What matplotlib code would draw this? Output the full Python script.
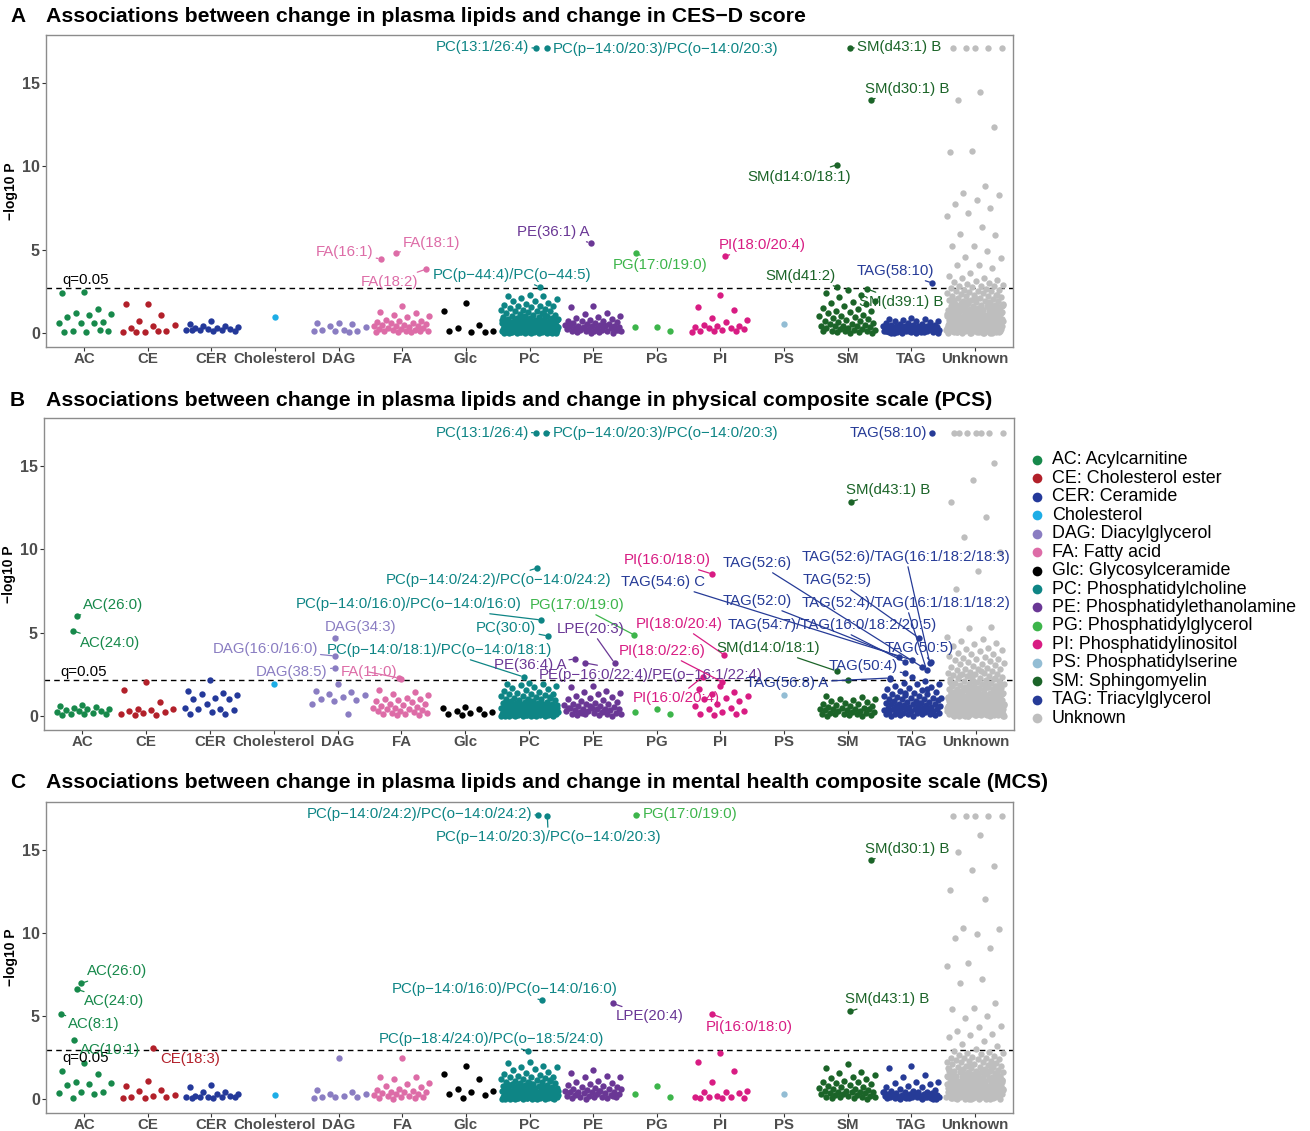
import matplotlib.pyplot as plt
from matplotlib.lines import Line2D

plt.rcParams['font.family'] = ['Liberation Sans', 'DejaVu Sans']

categories = ["AC", "CE", "CER", "Cholesterol", "DAG", "FA", "Glc", "PC", "PE",
              "PG", "PI", "PS", "SM", "TAG", "Unknown"]
legend_names = ["AC: Acylcarnitine", "CE: Cholesterol ester", "CER: Ceramide", "Cholesterol",
                "DAG: Diacylglycerol", "FA: Fatty acid", "Glc: Glycosylceramide",
                "PC: Phosphatidylcholine", "PE: Phosphatidylethanolamine",
                "PG: Phosphatidylglycerol", "PI: Phosphatidylinositol", "PS: Phosphatidylserine",
                "SM: Sphingomyelin", "TAG: Triacylglycerol", "Unknown"]
colors = ["#17894B", "#B2202A", "#24399A", "#1DADE6", "#8A7DC2", "#DD6CA7", "#000000",
          "#0E8585", "#6A3795", "#3DB54B", "#D81C83", "#93BDD4", "#1B6428", "#263B97",
          "#BEBEBE"]

titles = ["Associations between change in plasma lipids and change in CES\u2212D score",
          "Associations between change in plasma lipids and change in physical composite scale (PCS)",
          "Associations between change in plasma lipids and change in mental health composite scale (MCS)"]
panel_tags = ["A", "B", "C"]
# -log10 P at q = 0.05
thresholds = [2.7, 2.15, 2.95]

# ---------------- panel A: CES-D ----------------
a_ac = [2.45, 2.4, 1.45, 1.2, 1.15, 1.1, 0.95, 0.65, 0.6, 0.6, 0.6, 0.15, 0.1, 0.05, 0.05, 0.2]
a_ce = [1.75, 1.75, 1.1, 0.7, 0.5, 0.45, 0.3, 0.15, 0.05, 0.05, 0.1, 0.05]
a_cer = [0.75, 0.55, 0.45, 0.4, 0.35, 0.3, 0.3, 0.25, 0.25, 0.2, 0.2, 0.2, 0.15, 0.15, 0.2]
a_chol = [0.95]
a_dag = [0.6, 0.6, 0.55, 0.45, 0.35, 0.2, 0.2, 0.15, 0.1, 0.1, 0.05]
a_fa = [1.6, 1.25, 1.2, 1.1, 1.0, 0.95, 0.8, 0.7, 0.7, 0.65, 0.6, 0.6, 0.55, 0.5, 0.5, 0.45,
        0.45, 0.4, 0.35, 0.3, 0.3, 0.25, 0.25, 0.2, 0.2, 0.15, 0.15, 0.1, 0.1, 0.05, 0.05, 0.05]
a_glc = [1.8, 1.35, 0.5, 0.3, 0.15, 0.05, 0.1, 0.05]
a_pc = [2.3, 2.25, 2.2, 2.1, 2.05, 1.95, 1.9, 1.8, 1.75, 1.7, 1.65, 1.6, 1.6, 1.55, 1.5, 1.45,
        1.4, 1.4, 1.35, 1.3, 1.3, 1.25, 1.2, 1.2, 1.15, 1.1, 1.1, 1.05, 1.0, 1.0, 0.95, 0.95,
        0.9, 0.9, 0.9, 0.85, 0.85, 0.8, 0.8, 0.8, 0.75, 0.75, 0.75, 0.7, 0.7, 0.7, 0.65, 0.65,
        0.65, 0.6, 0.6, 0.6, 0.6, 0.55, 0.55, 0.55, 0.55, 0.5, 0.5, 0.5, 0.5, 0.45, 0.45, 0.45,
        0.45, 0.4, 0.4, 0.4, 0.4, 0.4, 0.35, 0.35, 0.35, 0.35, 0.35, 0.3, 0.3, 0.3, 0.3, 0.3,
        0.3, 0.25, 0.25, 0.25, 0.25, 0.25, 0.25, 0.2, 0.2, 0.2, 0.2, 0.2, 0.2, 0.2, 0.15, 0.15,
        0.15, 0.15, 0.15, 0.15, 0.15, 0.1, 0.1, 0.1, 0.1, 0.1, 0.1, 0.1, 0.1, 0.05, 0.05, 0.05,
        0.05, 0.05, 0.05, 0.05, 0.05, 0.02, 0.02, 0.02, 0.02, 0.02, 0.02, 0.02, 0.02,
        1.15, 0.95, 0.85, 0.7, 0.6, 0.5, 0.42, 0.37, 0.28, 0.22, 0.18, 0.12, 0.08, 0.04, 0.9,
        0.78, 0.68, 0.58, 0.48, 0.33, 0.27, 0.17, 0.07, 0.03]
a_pe = [1.65, 1.55, 1.2, 1.15, 1.0, 0.95, 0.9, 0.85, 0.8, 0.75, 0.7, 0.7, 0.65, 0.6, 0.6, 0.55,
        0.55, 0.5, 0.5, 0.45, 0.45, 0.4, 0.4, 0.4, 0.35, 0.35, 0.3, 0.3, 0.3, 0.25, 0.25, 0.2,
        0.2, 0.2, 0.15, 0.15, 0.1, 0.1, 0.1, 0.05, 0.05, 0.02, 0.02, 0.62, 0.48, 0.33, 0.18]
a_pg = [0.35, 0.35, 0.15]
a_pi = [2.3, 1.55, 1.4, 0.9, 0.8, 0.65, 0.5, 0.4, 0.4, 0.35, 0.3, 0.3, 0.25, 0.2, 0.15, 0.1,
        0.1, 0.05]
a_ps = [0.55]
a_sm = [2.6, 2.4, 2.3, 2.15, 1.95, 1.85, 1.8, 1.75, 1.65, 1.5, 1.45, 1.35, 1.3, 1.25, 1.2, 1.1,
        1.05, 1.0, 0.95, 0.9, 0.85, 0.8, 0.75, 0.7, 0.65, 0.6, 0.55, 0.55, 0.5, 0.45, 0.45,
        0.4, 0.4, 0.35, 0.3, 0.3, 0.25, 0.25, 0.2, 0.2, 0.15, 0.15, 0.1, 0.1, 0.05, 0.05, 0.02,
        0.02]
a_tag = [0.9, 0.85, 0.85, 0.8, 0.75, 0.7, 0.7, 0.65, 0.6, 0.6, 0.55, 0.55, 0.5, 0.5, 0.5, 0.45,
         0.45, 0.45, 0.4, 0.4, 0.4, 0.4, 0.35, 0.35, 0.35, 0.35, 0.3, 0.3, 0.3, 0.3, 0.3, 0.25,
         0.25, 0.25, 0.25, 0.25, 0.2, 0.2, 0.2, 0.2, 0.2, 0.2, 0.15, 0.15, 0.15, 0.15, 0.15,
         0.1, 0.1, 0.1, 0.1, 0.1, 0.1, 0.05, 0.05, 0.05, 0.05, 0.05, 0.02, 0.02, 0.02, 0.02,
         0.32, 0.22, 0.12, 0.07, 0.42, 0.27, 0.17, 0.03]
a_unk = [17.1, 17.1, 17.1, 17.1, 17.1, 14.45, 14.0, 12.35, 10.9, 10.85, 8.8, 8.4, 8.3, 8.0,
         7.75, 7.5, 7.2, 7.0, 6.35, 5.95, 5.9, 5.25, 5.2, 4.95, 4.55, 4.5, 4.1, 4.1, 3.9, 3.6,
         3.4, 3.3, 3.3, 3.2, 3.1, 3.05, 3.0, 2.95, 2.9, 2.85, 2.8, 2.8, 2.75, 2.7, 2.65, 2.6,
         2.6, 2.55, 2.5, 2.5, 2.45, 2.4, 2.4, 2.35, 2.3, 2.3, 2.25, 2.2, 2.2, 2.15, 2.1, 2.1,
         2.05, 2.0, 2.0, 1.95, 1.9, 1.9, 1.85, 1.8, 1.8, 1.8, 1.75, 1.7, 1.7, 1.7, 1.65, 1.6,
         1.6, 1.6, 1.55, 1.5, 1.5, 1.5, 1.45, 1.4, 1.4, 1.4, 1.35, 1.3, 1.3, 1.3, 1.3, 1.25,
         1.2, 1.2, 1.2, 1.2, 1.15, 1.1, 1.1, 1.1, 1.1, 1.05, 1.0, 1.0, 1.0, 1.0, 0.95, 0.95,
         0.9, 0.9, 0.9, 0.9, 0.85, 0.85, 0.85, 0.8, 0.8, 0.8, 0.8, 0.75, 0.75, 0.75, 0.7, 0.7,
         0.7, 0.7, 0.65, 0.65, 0.65, 0.6, 0.6, 0.6, 0.6, 0.55, 0.55, 0.55, 0.5, 0.5, 0.5, 0.5,
         0.45, 0.45, 0.45, 0.4, 0.4, 0.4, 0.4, 0.35, 0.35, 0.35, 0.3, 0.3, 0.3, 0.3, 0.25, 0.25,
         0.25, 0.2, 0.2, 0.2, 0.2, 0.15, 0.15, 0.15, 0.1, 0.1, 0.1, 0.1, 0.05, 0.05, 0.05, 0.02,
         0.02, 0.02, 0.02,
         2.28, 2.12, 1.98, 1.88, 1.72, 1.62, 1.52, 1.42, 1.32, 1.22, 1.12, 1.02, 0.92, 0.82,
         0.72, 0.62, 0.52, 0.42, 0.32, 0.22, 0.12, 0.04, 2.02, 1.78, 1.58, 1.38, 1.18, 0.98,
         0.88, 0.78, 0.68, 0.58, 0.48, 0.38, 0.28, 0.18, 0.08, 0.03, 1.92, 1.68, 1.48, 1.28,
         1.08, 0.93, 0.83, 0.73, 0.63, 0.53, 0.43, 0.33, 0.23, 0.13, 0.06, 0.01, 1.83, 1.63,
         1.44, 1.26, 1.06, 0.96, 0.86, 0.76, 0.66, 0.56, 0.46, 0.36, 0.26, 0.16, 0.09, 0.04,
         1.74, 1.54, 1.34, 1.16, 0.97, 0.87, 0.77, 0.67, 0.57, 0.47, 0.37, 0.27, 0.17, 0.07,
         0.03, 0.01]

a_lab_names = ["PC(13:1/26:4)", "PC(p\u221214:0/20:3)/PC(o\u221214:0/20:3)", "SM(d43:1) B",
               "SM(d30:1) B", "SM(d14:0/18:1)", "TAG(58:10)", "SM(d41:2)", "SM(d39:1) B",
               "PI(18:0/20:4)", "PG(17:0/19:0)", "PE(36:1) A", "FA(16:1)", "FA(18:1)",
               "FA(18:2)", "PC(p\u221244:4)/PC(o\u221244:5)"]
a_lab_cats = ["PC", "PC", "SM", "SM", "SM", "TAG", "SM", "SM", "PI", "PG", "PE", "FA", "FA",
              "FA", "PC"]
a_lab_vals = [17.1, 17.1, 17.1, 14.0, 10.1, 3.0, 2.76, 2.64, 4.62, 4.8, 5.4, 4.44, 4.8, 3.84,
              2.76]

# ---------------- panel B: PCS ----------------
b_ac = [0.65, 0.6, 0.55, 0.5, 0.45, 0.4, 0.35, 0.3, 0.3, 0.25, 0.2, 0.15, 0.1, 0.1, 0.05]
b_ce = [2.05, 1.55, 0.85, 0.45, 0.4, 0.35, 0.3, 0.25, 0.2, 0.1, 0.05, 0.05]
b_cer = [2.15, 1.5, 1.4, 1.35, 1.25, 1.1, 1.05, 1.0, 0.7, 0.5, 0.45, 0.4, 0.35, 0.25, 0.15, 0.1]
b_chol = [1.9]
b_dag = [1.95, 1.5, 1.45, 1.35, 1.25, 1.15, 1.0, 0.95, 0.9, 0.75, 0.15]
b_fa = [2.25, 1.55, 1.45, 1.35, 1.25, 1.1, 1.05, 1.0, 0.95, 0.9, 0.85, 0.75, 0.7, 0.65, 0.6,
        0.55, 0.5, 0.5, 0.45, 0.4, 0.35, 0.3, 0.3, 0.25, 0.2, 0.2, 0.15, 0.1, 0.05, 0.05]
b_glc = [0.55, 0.5, 0.45, 0.3, 0.25, 0.2, 0.15, 0.1, 0.05]
b_pc = [2.0, 1.95, 1.9, 1.85, 1.8, 1.75, 1.7, 1.6, 1.55, 1.5, 1.45, 1.4, 1.35, 1.3, 1.3, 1.25,
        1.2, 1.2, 1.15, 1.1, 1.1, 1.05, 1.0, 1.0, 0.95, 0.95, 0.9, 0.9, 0.85, 0.85, 0.8, 0.8,
        0.8, 0.75, 0.75, 0.7, 0.7, 0.7, 0.65, 0.65, 0.65, 0.6, 0.6, 0.6, 0.6, 0.55, 0.55, 0.55,
        0.5, 0.5, 0.5, 0.5, 0.45, 0.45, 0.45, 0.45, 0.4, 0.4, 0.4, 0.4, 0.4, 0.35, 0.35, 0.35,
        0.35, 0.3, 0.3, 0.3, 0.3, 0.3, 0.25, 0.25, 0.25, 0.25, 0.25, 0.2, 0.2, 0.2, 0.2, 0.2,
        0.2, 0.15, 0.15, 0.15, 0.15, 0.15, 0.15, 0.1, 0.1, 0.1, 0.1, 0.1, 0.1, 0.1, 0.05, 0.05,
        0.05, 0.05, 0.05, 0.05, 0.05, 0.02, 0.02, 0.02, 0.02, 0.02, 0.02, 0.02, 0.02,
        1.12, 0.98, 0.88, 0.72, 0.62, 0.52, 0.42, 0.37, 0.28, 0.22, 0.18, 0.12, 0.08, 0.04,
        0.92, 0.78, 0.68, 0.58, 0.48, 0.33, 0.27, 0.17, 0.07, 0.03]
b_pe = [1.8, 1.75, 1.5, 1.45, 1.4, 1.3, 1.2, 1.15, 1.1, 1.0, 0.95, 0.9, 0.85, 0.8, 0.75, 0.7,
        0.7, 0.65, 0.6, 0.6, 0.55, 0.5, 0.5, 0.45, 0.45, 0.4, 0.4, 0.35, 0.35, 0.3, 0.3, 0.25,
        0.25, 0.2, 0.2, 0.15, 0.15, 0.1, 0.1, 0.05, 0.05, 0.02, 0.62, 0.48, 0.33, 0.18]
b_pg = [0.42, 0.27, 0.12]
b_pi = [1.8, 1.6, 1.45, 1.3, 1.2, 1.1, 1.0, 0.9, 0.75, 0.6, 0.5, 0.4, 0.3, 0.25, 0.15, 0.1, 0.05]
b_ps = [1.26]
b_sm = [2.15, 1.2, 1.15, 1.05, 1.0, 0.95, 0.9, 0.85, 0.8, 0.75, 0.7, 0.65, 0.6, 0.6, 0.55, 0.5,
        0.5, 0.45, 0.45, 0.4, 0.4, 0.35, 0.35, 0.3, 0.3, 0.25, 0.25, 0.2, 0.2, 0.15, 0.15, 0.1,
        0.1, 0.05, 0.05, 0.02, 0.02]
b_tag = [2.35, 2.2, 2.1, 2.0, 1.95, 1.9, 1.8, 1.75, 1.7, 1.6, 1.55, 1.5, 1.45, 1.4, 1.35, 1.3,
         1.25, 1.2, 1.2, 1.15, 1.1, 1.1, 1.05, 1.0, 1.0, 0.95, 0.9, 0.9, 0.85, 0.85, 0.8, 0.8,
         0.75, 0.75, 0.7, 0.7, 0.65, 0.65, 0.6, 0.6, 0.6, 0.55, 0.55, 0.5, 0.5, 0.5, 0.45, 0.45,
         0.4, 0.4, 0.4, 0.35, 0.35, 0.3, 0.3, 0.3, 0.25, 0.25, 0.2, 0.2, 0.2, 0.15, 0.15, 0.1,
         0.1, 0.1, 0.05, 0.05, 0.02, 0.02, 1.65, 1.38, 1.08, 0.78, 0.48, 0.18]
b_unk = [17.0, 17.0, 17.0, 17.0, 17.0, 17.0, 17.0, 15.2, 14.15, 12.85, 11.95, 10.75, 9.85, 8.7,
         7.6, 5.35, 5.3, 4.75, 4.6, 4.5, 4.4, 4.3, 4.2, 4.1, 4.0, 3.95, 3.9, 3.8, 3.75, 3.7, 3.6,
         3.55, 3.5, 3.45, 3.4, 3.35, 3.3, 3.25, 3.2, 3.15, 3.1, 3.05, 3.0, 2.95, 2.9, 2.85, 2.8,
         2.8, 2.75, 2.7, 2.65, 2.6, 2.6, 2.55, 2.5, 2.5, 2.45, 2.4, 2.4, 2.35, 2.3, 2.3, 2.25,
         2.2, 2.2, 2.15, 2.1, 2.1, 2.05, 2.0, 2.0, 1.95, 1.9, 1.9, 1.85, 1.8, 1.8, 1.8, 1.75,
         1.7, 1.7, 1.7, 1.65, 1.6, 1.6, 1.6, 1.55, 1.5, 1.5, 1.5, 1.45, 1.4, 1.4, 1.4, 1.35,
         1.3, 1.3, 1.3, 1.3, 1.25, 1.2, 1.2, 1.2, 1.2, 1.15, 1.1, 1.1, 1.1, 1.1, 1.05, 1.0, 1.0,
         1.0, 1.0, 0.95, 0.95, 0.9, 0.9, 0.9, 0.9, 0.85, 0.85, 0.85, 0.8, 0.8, 0.8, 0.8, 0.75,
         0.75, 0.75, 0.7, 0.7, 0.7, 0.7, 0.65, 0.65, 0.65, 0.6, 0.6, 0.6, 0.6, 0.55, 0.55, 0.55,
         0.5, 0.5, 0.5, 0.5, 0.45, 0.45, 0.45, 0.4, 0.4, 0.4, 0.4, 0.35, 0.35, 0.35, 0.3, 0.3,
         0.3, 0.3, 0.25, 0.25, 0.25, 0.2, 0.2, 0.2, 0.2, 0.15, 0.15, 0.15, 0.1, 0.1, 0.1, 0.1,
         0.05, 0.05, 0.05, 0.02, 0.02, 0.02, 0.02,
         2.68, 2.48, 2.28, 2.12, 1.98, 1.88, 1.72, 1.62, 1.52, 1.42, 1.32, 1.22, 1.12, 1.02,
         0.92, 0.82, 0.72, 0.62, 0.52, 0.42, 0.32, 0.22, 0.12, 0.04, 2.38, 2.02, 1.78, 1.58,
         1.38, 1.18, 0.98, 0.88, 0.78, 0.68, 0.58, 0.48, 0.38, 0.28, 0.18, 0.08, 0.03, 1.92,
         1.68, 1.48, 1.28, 1.08, 0.93, 0.83, 0.73, 0.63, 0.53, 0.43, 0.33, 0.23, 0.13, 0.06,
         0.01, 1.83, 1.63, 1.44, 1.26, 1.06, 0.96, 0.86, 0.76, 0.66, 0.56, 0.46, 0.36, 0.26,
         0.16, 0.09, 0.04, 1.74, 1.54, 1.34, 1.16, 0.97, 0.87, 0.77, 0.67, 0.57, 0.47, 0.37,
         0.27, 0.17, 0.07, 0.03, 0.01]

b_lab_names = ["PC(13:1/26:4)", "PC(p\u221214:0/20:3)/PC(o\u221214:0/20:3)", "TAG(58:10)",
               "SM(d43:1) B", "AC(26:0)", "AC(24:0)", "DAG(34:3)", "DAG(16:0/16:0)",
               "DAG(38:5)", "FA(11:0)", "PC(p\u221214:0/24:2)/PC(o\u221214:0/24:2)",
               "PC(p\u221214:0/16:0)/PC(o\u221214:0/16:0)", "PC(30:0)",
               "PC(p\u221214:0/18:1)/PC(o\u221214:0/18:1)", "PG(17:0/19:0)", "LPE(20:3)",
               "PE(36:4) A", "PE(p\u221216:0/22:4)/PE(o\u221216:1/22:4)", "PI(16:0/18:0)",
               "PI(18:0/20:4)", "PI(18:0/22:6)", "PI(16:0/20:4)", "SM(d14:0/18:1)",
               "TAG(52:6)/TAG(16:1/18:2/18:3)", "TAG(52:6)", "TAG(54:6) C", "TAG(52:5)",
               "TAG(52:0)", "TAG(52:4)/TAG(16:1/18:1/18:2)", "TAG(54:7)/TAG(16:0/18:2/20:5)",
               "TAG(50:5)", "TAG(50:4)", "TAG(56:8) A"]
b_lab_cats = ["PC", "PC", "TAG", "SM", "AC", "AC", "DAG", "DAG", "DAG", "FA", "PC", "PC", "PC",
              "PC", "PG", "PE", "PE", "PE", "PI", "PI", "PI", "PI", "SM", "TAG", "TAG", "TAG",
              "TAG", "TAG", "TAG", "TAG", "TAG", "TAG", "TAG"]
b_lab_vals = [17.0, 17.0, 17.0, 12.84, 6.0, 5.1, 4.68, 3.6, 2.88, 2.28, 8.88, 5.76, 4.8, 2.34,
              4.86, 3.18, 3.42, 3.18, 8.52, 3.66, 2.04, 2.34, 2.7, 3.18, 2.94, 3.36, 4.68, 3.54,
              2.76, 3.24, 3.24, 2.58, 2.28]

# ---------------- panel C: MCS ----------------
c_ac = [2.15, 1.7, 1.5, 1.05, 0.95, 0.9, 0.85, 0.45, 0.4, 0.35, 0.3, 0.05]
c_ce = [1.1, 0.8, 0.55, 0.5, 0.25, 0.2, 0.15, 0.1, 0.05, 0.05]
c_cer = [0.85, 0.7, 0.45, 0.4, 0.3, 0.3, 0.2, 0.2, 0.15, 0.15, 0.1, 0.1, 0.1, 0.05, 0.05]
c_chol = [0.25]
c_dag = [2.45, 0.55, 0.45, 0.3, 0.3, 0.2, 0.15, 0.1, 0.1, 0.05]
c_fa = [2.5, 1.35, 1.3, 1.2, 0.95, 0.9, 0.8, 0.7, 0.6, 0.55, 0.5, 0.45, 0.45, 0.4, 0.35, 0.3,
        0.3, 0.25, 0.2, 0.2, 0.15, 0.1, 0.05, 0.05, 0.02]
c_glc = [2.0, 1.5, 1.2, 0.6, 0.5, 0.45, 0.3, 0.25, 0.05]
c_pc = [2.2, 2.15, 2.0, 1.95, 1.9, 1.8, 1.75, 1.6, 1.55, 1.5, 1.45, 1.4, 1.35, 1.3, 1.3, 1.25,
        1.2, 1.2, 1.15, 1.1, 1.1, 1.05, 1.0, 1.0, 0.95, 0.95, 0.9, 0.9, 0.85, 0.85, 0.8, 0.8,
        0.8, 0.75, 0.75, 0.7, 0.7, 0.7, 0.65, 0.65, 0.65, 0.6, 0.6, 0.6, 0.6, 0.55, 0.55, 0.55,
        0.5, 0.5, 0.5, 0.5, 0.45, 0.45, 0.45, 0.45, 0.4, 0.4, 0.4, 0.4, 0.4, 0.35, 0.35, 0.35,
        0.35, 0.3, 0.3, 0.3, 0.3, 0.3, 0.25, 0.25, 0.25, 0.25, 0.25, 0.2, 0.2, 0.2, 0.2, 0.2,
        0.2, 0.15, 0.15, 0.15, 0.15, 0.15, 0.15, 0.1, 0.1, 0.1, 0.1, 0.1, 0.1, 0.1, 0.05, 0.05,
        0.05, 0.05, 0.05, 0.05, 0.05, 0.02, 0.02, 0.02, 0.02, 0.02, 0.02, 0.02, 0.02,
        1.12, 0.98, 0.88, 0.72, 0.62, 0.52, 0.42, 0.37, 0.28, 0.22, 0.18, 0.12, 0.08, 0.04,
        0.92, 0.78, 0.68, 0.58, 0.48, 0.33, 0.27, 0.17, 0.07, 0.03]
c_pe = [1.75, 1.55, 1.4, 1.35, 1.3, 1.1, 1.0, 0.95, 0.9, 0.85, 0.8, 0.75, 0.7, 0.65, 0.6, 0.6,
        0.55, 0.5, 0.5, 0.45, 0.45, 0.4, 0.4, 0.35, 0.35, 0.3, 0.3, 0.25, 0.25, 0.2, 0.2, 0.15,
        0.15, 0.1, 0.1, 0.05, 0.05, 0.02, 0.62, 0.48, 0.33, 0.18]
c_pg = [0.8, 0.3, 0.15]
c_pi = [2.8, 2.2, 1.7, 1.0, 0.5, 0.45, 0.4, 0.35, 0.2, 0.15, 0.1, 0.1, 0.05, 0.05, 0.05]
c_ps = [0.3]
c_sm = [2.1, 1.85, 1.6, 1.55, 1.45, 1.35, 1.25, 1.2, 1.1, 1.05, 1.0, 0.95, 0.9, 0.85, 0.8,
        0.75, 0.7, 0.65, 0.6, 0.6, 0.55, 0.5, 0.5, 0.45, 0.45, 0.4, 0.4, 0.35, 0.35, 0.3, 0.3,
        0.25, 0.25, 0.2, 0.2, 0.15, 0.15, 0.1, 0.1, 0.05, 0.05, 0.02]
c_tag = [2.0, 1.85, 1.45, 1.3, 1.05, 1.0, 0.95, 0.9, 0.8, 0.75, 0.7, 0.6, 0.55, 0.5, 0.5, 0.45,
         0.45, 0.4, 0.4, 0.35, 0.35, 0.3, 0.3, 0.3, 0.25, 0.25, 0.25, 0.2, 0.2, 0.2, 0.2, 0.15,
         0.15, 0.15, 0.15, 0.1, 0.1, 0.1, 0.1, 0.1, 0.05, 0.05, 0.05, 0.05, 0.02, 0.02, 0.02,
         0.32, 0.22, 0.12, 0.07, 0.42, 0.27, 0.17, 0.03]
c_unk = [17.05, 17.05, 17.05, 17.05, 17.05, 15.9, 14.9, 14.0, 13.8, 12.6, 12.05, 10.3, 10.25,
         9.95, 9.7, 9.1, 8.2, 8.0, 7.2, 7.0, 5.8, 5.5, 5.45, 5.0, 4.85, 4.4, 4.35, 4.1, 3.9, 3.85,
         3.75, 3.5, 3.3, 3.2, 3.0, 2.9, 2.85, 2.8, 2.75, 2.7, 2.65, 2.6, 2.55, 2.5, 2.5, 2.45,
         2.4, 2.4, 2.35, 2.3, 2.3, 2.25, 2.2, 2.2, 2.15, 2.1, 2.1, 2.05, 2.0, 2.0, 1.95, 1.9,
         1.9, 1.85, 1.8, 1.8, 1.8, 1.75, 1.7, 1.7, 1.7, 1.65, 1.6, 1.6, 1.6, 1.55, 1.5, 1.5, 1.5,
         1.45, 1.4, 1.4, 1.4, 1.35, 1.3, 1.3, 1.3, 1.3, 1.25, 1.2, 1.2, 1.2, 1.2, 1.15, 1.1, 1.1,
         1.1, 1.1, 1.05, 1.0, 1.0, 1.0, 1.0, 0.95, 0.95, 0.9, 0.9, 0.9, 0.9, 0.85, 0.85, 0.85,
         0.8, 0.8, 0.8, 0.8, 0.75, 0.75, 0.75, 0.7, 0.7, 0.7, 0.7, 0.65, 0.65, 0.65, 0.6, 0.6,
         0.6, 0.6, 0.55, 0.55, 0.55, 0.5, 0.5, 0.5, 0.5, 0.45, 0.45, 0.45, 0.4, 0.4, 0.4, 0.4,
         0.35, 0.35, 0.35, 0.3, 0.3, 0.3, 0.3, 0.25, 0.25, 0.25, 0.2, 0.2, 0.2, 0.2, 0.15, 0.15,
         0.15, 0.1, 0.1, 0.1, 0.1, 0.05, 0.05, 0.05, 0.02, 0.02, 0.02, 0.02,
         2.12, 1.98, 1.88, 1.72, 1.62, 1.52, 1.42, 1.32, 1.22, 1.12, 1.02, 0.92, 0.82, 0.72,
         0.62, 0.52, 0.42, 0.32, 0.22, 0.12, 0.04, 1.78, 1.58, 1.38, 1.18, 0.98, 0.88, 0.78,
         0.68, 0.58, 0.48, 0.38, 0.28, 0.18, 0.08, 0.03, 1.68, 1.48, 1.28, 1.08, 0.93, 0.83,
         0.73, 0.63, 0.53, 0.43, 0.33, 0.23, 0.13, 0.06, 0.01, 1.44, 1.26, 1.06, 0.96, 0.86,
         0.76, 0.66, 0.56, 0.46, 0.36, 0.26, 0.16, 0.09, 0.04, 1.16, 0.97, 0.87, 0.77, 0.67,
         0.57, 0.47, 0.37, 0.27, 0.17, 0.07, 0.03, 0.01]

c_lab_names = ["PC(p\u221214:0/24:2)/PC(o\u221214:0/24:2)",
               "PC(p\u221214:0/20:3)/PC(o\u221214:0/20:3)", "PG(17:0/19:0)", "SM(d30:1) B",
               "SM(d43:1) B", "PI(16:0/18:0)", "LPE(20:4)",
               "PC(p\u221214:0/16:0)/PC(o\u221214:0/16:0)",
               "PC(p\u221218:4/24:0)/PC(o\u221218:5/24:0)", "AC(26:0)", "AC(24:0)", "AC(8:1)",
               "AC(10:1)", "CE(18:3)"]
c_lab_cats = ["PC", "PC", "PG", "SM", "SM", "PI", "PE", "PC", "PC", "AC", "AC", "AC", "AC",
              "CE"]
c_lab_vals = [17.1, 17.04, 17.1, 14.4, 5.28, 5.1, 5.76, 5.94, 2.88, 6.96, 6.6, 5.1, 3.54, 3.06]

# ---------------- layout ----------------
# horizontal place of each labelled lipid inside its band (category units)
a_lab_jit = [0.11, 0.27, 0.04, 0.37, -0.16, 0.33, -0.16, 0.31, 0.08, -0.33, -0.04, -0.34,
             -0.10, 0.38, 0.16]
b_lab_jit = [0.11, 0.27, 0.31, 0.04, -0.09, -0.14, -0.04, -0.04, -0.04, -0.04, 0.13, 0.19,
             0.30, -0.08, -0.35, 0.34, -0.28, -0.12, -0.13, 0.06, 0.03, -0.28, -0.18, 0.28,
             0.16, 0.0, 0.11, -0.2, 0.23, -0.11, 0.30, -0.11, -0.35]
c_lab_jit = [0.14, 0.28, -0.33, 0.37, 0.04, -0.13, 0.31, 0.2, -0.02, -0.05, -0.11, -0.36,
             -0.16, 0.08]
# text centre relative to the point, pixels (x right, y up)
a_lab_txt = [(-54, 1), (119, -1), (49, 1), (36, 11), (-38, -12), (-37, 12), (-37, 11),
             (34, -13), (37, 11), (24, -12), (-37, 11), (-36, 7), (36, 10), (-37, -13), (-28, 12)]
b_lab_txt = [(-54, 0), (119, 0), (-43, 0), (37, 12), (37, 11), (37, -12), (26, 11), (-70, 7),
             (-43, -4), (-30, 6), (-39, -12), (-132, 16), (-42, 8), (-84, 27), (-57, 30),
             (-24, 34), (-45, -6), (66, -12), (-45, 14), (-45, 31), (-60, 31), (-26, -21),
             (-68, 23), (-24, 106), (-165, 104), (-249, 78), (-82, 58), (-142, 56), (-21, 67),
             (-73, 37), (-12, 14), (-42, 7), (-102, -5)]
c_lab_txt = [(-119, 1), (1, -21), (54, 1), (36, 11), (37, 12), (37, -13), (37, -13), (-38, 11),
             (-37, 12), (36, 12), (37, -12), (33, -10), (36, -10), (37, -11)]

W, H = 1310, 1131
axes_px = [(46, 35, 1013, 347), (44, 418, 1014, 730), (46, 802, 1013, 1113)]
title_y = [17, 400, 783]
q_side = [1, 1, -1]


def spread(n, half=0.45):
    # even golden-ratio jitter inside a category band
    return [((k * 0.6180339887 + 0.5) % 1.0 - 0.5) * 2 * half for k in range(n)]


def draw_panel(ax, groups, names, cats, vals, jits, txts, thr, side):
    for i, ys in enumerate(groups):
        xs = [i + d for d in spread(len(ys))]
        ax.scatter(xs, ys, s=21, color=colors[i], linewidths=0, zorder=2)
    for name, cat, v, jit, (dx, dy) in zip(names, cats, vals, jits, txts):
        i = categories.index(cat)
        ax.scatter([i + jit], [v], s=21, color=colors[i], linewidths=0, zorder=3)
        ax.annotate(name, xy=(i + jit, v), xytext=(dx, dy), textcoords='offset pixels',
                    ha='center', va='center', fontsize=10.8, color=colors[i], zorder=4,
                    arrowprops=dict(arrowstyle='-', color=colors[i], lw=0.9,
                                    shrinkA=0, shrinkB=2))
    ax.axhline(thr, color='black', lw=1.0, ls=(0, (4, 3)), zorder=1)
    ax.annotate("q=0.05", xy=(0.02, thr), xytext=(0, 8 * side), textcoords='offset pixels',
                ha='center', va='center', fontsize=10.8, color='black')
    ax.set_xlim(-0.6, 14.6)
    ax.set_ylim(-0.84, 17.88)
    ax.set_xticks(range(len(categories)))
    ax.set_xticklabels(categories, fontsize=10.8, fontweight='bold', color='#4D4D4D')
    ax.set_yticks([0, 5, 10, 15])
    ax.set_yticklabels(["0", "5", "10", "15"], fontsize=11.5, fontweight='bold', color='#4D4D4D')
    ax.tick_params(length=3, width=0.8, color='#333333', pad=1.5)
    ax.tick_params(axis='x', pad=0.5)
    ax.set_ylabel("\u2212log10 P", fontsize=10, fontweight='bold', labelpad=3)
    for sp in ax.spines.values():
        sp.set_color('#8C8C8C')
        sp.set_linewidth(1.0)


fig = plt.figure(figsize=(W / 100, H / 100), dpi=100)

panels = [
    ([a_ac, a_ce, a_cer, a_chol, a_dag, a_fa, a_glc, a_pc, a_pe, a_pg, a_pi, a_ps, a_sm, a_tag,
      a_unk], a_lab_names, a_lab_cats, a_lab_vals, a_lab_jit, a_lab_txt),
    ([b_ac, b_ce, b_cer, b_chol, b_dag, b_fa, b_glc, b_pc, b_pe, b_pg, b_pi, b_ps, b_sm, b_tag,
      b_unk], b_lab_names, b_lab_cats, b_lab_vals, b_lab_jit, b_lab_txt),
    ([c_ac, c_ce, c_cer, c_chol, c_dag, c_fa, c_glc, c_pc, c_pe, c_pg, c_pi, c_ps, c_sm, c_tag,
      c_unk], c_lab_names, c_lab_cats, c_lab_vals, c_lab_jit, c_lab_txt),
]

for k, (groups, names, cats, vals, jits, txts) in enumerate(panels):
    x0, y0, x1, y1 = axes_px[k]
    ax = fig.add_axes([x0 / W, 1 - y1 / H, (x1 - x0) / W, (y1 - y0) / H])
    draw_panel(ax, groups, names, cats, vals, jits, txts, thresholds[k], q_side[k])
    fig.text(10 / W, 1 - title_y[k] / H, panel_tags[k], fontsize=15, fontweight='bold',
             ha='left', va='center')
    fig.text(46 / W, 1 - title_y[k] / H, titles[k], fontsize=15.3, fontweight='bold',
             ha='left', va='center')

# legend beside panel B
for k, (name, col) in enumerate(zip(legend_names, colors)):
    yy = 1 - (460 + 18.43 * k) / H
    fig.add_artist(Line2D([1037 / W], [yy], marker='o', markersize=7, color=col, ls='none',
                          markeredgewidth=0, transform=fig.transFigure))
    fig.text(1052 / W, yy, name, fontsize=12.9, ha='left', va='center')

fig.savefig("out.png", dpi=100)
